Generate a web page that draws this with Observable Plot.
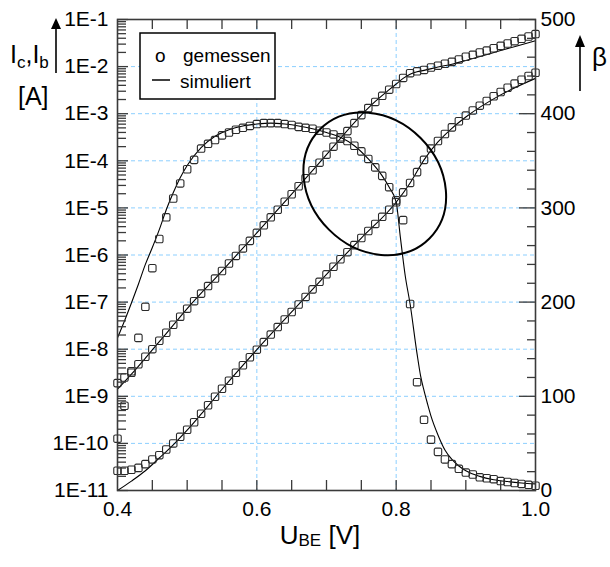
<!DOCTYPE html>
<html>
<head>
<meta charset="utf-8">
<script src="https://cdn.jsdelivr.net/npm/d3@7"></script>
<script src="https://cdn.jsdelivr.net/npm/@observablehq/plot@0.6"></script>
<style>
  html, body { margin: 0; padding: 0; background: #fff; }
  #chart { width: 610px; height: 567px; }
</style>
</head>
<body>
<div id="chart"></div>
<script>
// ---------- data ----------
// base-emitter voltage of the measured samples [V]
const uMeas = [0.40,0.41,0.42,0.43,0.44,0.45,0.46,0.47,0.48,0.49,
               0.50,0.51,0.52,0.53,0.54,0.55,0.56,0.57,0.58,0.59,
               0.60,0.61,0.62,0.63,0.64,0.65,0.66,0.67,0.68,0.69,
               0.70,0.71,0.72,0.73,0.74,0.75,0.76,0.77,0.78,0.79,
               0.80,0.81,0.82,0.83,0.84,0.85,0.86,0.87,0.88,0.89,
               0.90,0.91,0.92,0.93,0.94,0.95,0.96,0.97,0.98,0.99,1.00];
// measured collector current, log10(Ic / A)
const icMeasLog = [-8.72,-8.60,-8.47,-8.32,-8.16,-8.00,-7.82,-7.65,-7.48,-7.31,
                   -7.14,-6.98,-6.82,-6.66,-6.50,-6.34,-6.18,-6.02,-5.86,-5.70,
                   -5.53,-5.37,-5.20,-5.04,-4.87,-4.71,-4.54,-4.37,-4.20,-4.04,
                   -3.87,-3.70,-3.53,-3.37,-3.20,-3.03,-2.88,-2.75,-2.62,-2.49,
                   -2.37,-2.24,-2.14,-2.10,-2.07,-2.02,-1.98,-1.94,-1.90,-1.85,
                   -1.79,-1.75,-1.70,-1.66,-1.61,-1.56,-1.51,-1.46,-1.41,-1.36,-1.31];
// measured base current, log10(Ib / A)
const ibMeasLog = [-10.58,-10.58,-10.56,-10.52,-10.44,-10.34,-10.25,-10.13,-10.00,-9.86,
                   -9.71,-9.55,-9.37,-9.19,-9.01,-8.84,-8.67,-8.50,-8.34,-8.17,
                   -8.01,-7.85,-7.69,-7.53,-7.37,-7.21,-7.05,-6.89,-6.73,-6.57,
                   -6.41,-6.25,-6.09,-5.94,-5.79,-5.64,-5.49,-5.34,-5.19,-5.04,
                   -4.88,-4.67,-4.47,-4.24,-3.98,-3.74,-3.58,-3.43,-3.29,-3.16,
                   -3.04,-2.93,-2.83,-2.73,-2.63,-2.54,-2.45,-2.36,-2.28,-2.20,-2.13];
// measured current gain beta
const betaMeas = [55,90,125,162,195,236,267,290,310,326,
                  341,351,363,368,372,377,380,383,385,387,
                  389,390,390,390,389,388,386,385,384,382,
                  380,378,375,371,366,360,352,343,334,322,
                  308,287,198,115,75,54,41,33,28,23,
                  19,17,14,13,12,10,9,8,7,6,5];

// simulated curves
const uIcSim   = [0.40,0.42,0.44,0.46,0.48,0.50,0.55,0.60,0.65,0.70,0.75,0.77,0.79,0.80,0.81,0.82,0.83,0.84,0.86,0.88,0.90,0.95,1.00];
const icSimLog = [-8.85,-8.53,-8.19,-7.84,-7.49,-7.14,-6.34,-5.53,-4.71,-3.87,-3.03,-2.74,-2.49,-2.37,-2.25,-2.16,-2.11,-2.08,-2.01,-1.95,-1.87,-1.66,-1.45];
const uIbSim   = [0.40,0.42,0.44,0.46,0.48,0.50,0.52,0.55,0.60,0.65,0.70,0.75,0.80,0.82,0.84,0.86,0.88,0.90,0.95,1.00];
const ibSimLog = [-11.0,-10.8,-10.58,-10.31,-10.03,-9.72,-9.38,-8.85,-8.01,-7.21,-6.41,-5.64,-4.88,-4.47,-3.98,-3.60,-3.31,-3.07,-2.60,-2.25];
const uBetaSim = [0.40,0.41,0.42,0.43,0.44,0.45,0.46,0.47,0.48,0.49,0.50,0.52,0.54,0.56,0.58,0.60,0.62,0.64,0.66,0.68,0.70,0.72,0.74,0.76,0.78,0.79,0.80,0.806,0.813,0.82,0.83,0.835,0.84,0.845,0.85,0.86,0.87,0.88,0.89,0.90,0.92,0.94,0.96,0.98,1.00];
const betaSim  = [162,180,199,219,240,258,277,298,316,332,345,364,376,383,387,389,390,389,387,384,380,375,366,352,334,322,306,269,228,198,145,122,106,92,79,59,43,33,26,21,15,11.5,9.5,8,7];

// axes / labels
const xTickLabels   = [0.4, 0.6, 0.8, 1.0];
const xMinorTicks   = [0.45,0.5,0.55,0.6,0.65,0.7,0.75,0.8,0.85,0.9,0.95];
const xGrid         = [0.6, 0.8];
const decadeExps    = [-11,-10,-9,-8,-7,-6,-5,-4,-3,-2,-1];
const gridExps      = [-10,-9,-8,-7,-6,-5,-4,-3,-2];
const betaTickLabels = [0,100,200,300,400,500];
const legendLabels  = ["gemessen", "simuliert"];
const xTitle = ["U", "BE", " [V]"];
// annotation ellipse: centre (U, beta), semi-axes in volts, rotation in degrees
const ellipse = { u: 0.770, beta: 325, a: 0.111, b: 0.093, angle: 45 };

// ---------- helpers ----------
const FONT = "'Liberation Sans', Arial, Helvetica, sans-serif";
const GRID = "#8ccfff";
const AX = "#3a3a3a";
// right axis: beta 0..500 spans the same height as 1E-11..1E-1
const b2y = b => Math.pow(10, -11 + b / 50);
const y2b = y => (Math.log10(y) + 11) * 50;

const icPts   = uMeas.map((u, i) => ({u, v: Math.pow(10, icMeasLog[i])}));
const ibPts   = uMeas.map((u, i) => ({u, v: Math.pow(10, ibMeasLog[i])}));
const betaPts = uMeas.map((u, i) => ({u, v: b2y(betaMeas[i])}));
const icLine   = uIcSim.map((u, i) => ({u, v: Math.pow(10, icSimLog[i])}));
const ibLine   = uIbSim.map((u, i) => ({u, v: Math.pow(10, ibSimLog[i])}));
const betaLine = uBetaSim.map((u, i) => ({u, v: b2y(betaSim[i])}));

const decades = decadeExps.map(e => Math.pow(10, e));
const leftMinor = [];
decadeExps.slice(0, -1).forEach(e => { for (let m = 2; m <= 9; m++) leftMinor.push(m * Math.pow(10, e)); });
const betaMinor = d3.range(0, 501, 20).filter(b => b % 100 !== 0);

const roundSquare = {
  draw(ctx, size) {
    const s = Math.sqrt(size) / 2, r = s * 0.4;
    ctx.moveTo(-s + r, -s);
    ctx.lineTo(s - r, -s); ctx.arcTo(s, -s, s, -s + r, r);
    ctx.lineTo(s, s - r);  ctx.arcTo(s, s, s - r, s, r);
    ctx.lineTo(-s + r, s); ctx.arcTo(-s, s, -s, s - r, r);
    ctx.lineTo(-s, -s + r); ctx.arcTo(-s, -s, -s + r, -s, r);
    ctx.closePath();
  }
};

function ellipseMark(index, scales) {
  const cx = scales.x(ellipse.u), cy = scales.y(b2y(ellipse.beta));
  const ra = scales.x(ellipse.u + ellipse.a) - cx;
  const rb = scales.x(ellipse.u + ellipse.b) - cx;
  return d3.create("svg:ellipse")
    .attr("cx", cx).attr("cy", cy).attr("rx", ra).attr("ry", rb)
    .attr("transform", `rotate(${ellipse.angle} ${cx} ${cy})`)
    .attr("fill", "none").attr("stroke", "#000").attr("stroke-width", 2)
    .node();
}

function decorations(index, scales, values, dim) {
  const L = dim.marginLeft, T = dim.marginTop;
  const R = dim.width - dim.marginRight, B = dim.height - dim.marginBottom;
  const g = d3.create("svg:g").attr("font-family", FONT).attr("fill", "#000").attr("text-anchor", "start");
  // legend
  g.append("rect").attr("x", L + 23).attr("y", T + 14).attr("width", 135).attr("height", 66)
    .attr("fill", "#fff").attr("stroke", "#000").attr("stroke-width", 1.5);
  g.append("text").attr("x", L + 38).attr("y", T + 43).attr("font-size", 19).text("o");
  g.append("text").attr("x", L + 66).attr("y", T + 43).attr("font-size", 19).text(legendLabels[0]);
  g.append("line").attr("x1", L + 35).attr("x2", L + 53).attr("y1", T + 61).attr("y2", T + 61)
    .attr("stroke", "#000").attr("stroke-width", 1.5);
  g.append("text").attr("x", L + 63).attr("y", T + 69).attr("font-size", 19).text(legendLabels[1]);
  // left axis title
  const t1 = g.append("text").attr("x", 10).attr("y", T + 44).attr("font-size", 25);
  t1.append("tspan").text("I");
  t1.append("tspan").attr("font-size", 17).attr("dy", 5).text("c");
  t1.append("tspan").attr("dy", -5).text(",I");
  t1.append("tspan").attr("font-size", 17).attr("dy", 5).text("b");
  g.append("text").attr("x", 18).attr("y", T + 86).attr("font-size", 25).text("[A]");
  g.append("line").attr("x1", 56).attr("x2", 56).attr("y1", T + 54).attr("y2", T + 8)
    .attr("stroke", "#000").attr("stroke-width", 1.6);
  g.append("path").attr("d", `M56,${T - 1}L51,${T + 10}L61,${T + 10}Z`);
  // right axis title
  g.append("text").attr("x", R + 57).attr("y", T + 47).attr("font-size", 26).text("β");
  g.append("line").attr("x1", R + 45).attr("x2", R + 45).attr("y1", T + 72).attr("y2", T + 25)
    .attr("stroke", "#000").attr("stroke-width", 1.6);
  g.append("path").attr("d", `M${R + 45},${T + 16}L${R + 40},${T + 28}L${R + 50},${T + 28}Z`);
  // x axis title
  const t2 = g.append("text").attr("x", (L + R) / 2 - 6).attr("y", B + 54)
    .attr("font-size", 26).attr("text-anchor", "middle");
  t2.append("tspan").text(xTitle[0]);
  t2.append("tspan").attr("font-size", 17).attr("dy", 2).text(xTitle[1]);
  t2.append("tspan").attr("dy", -2).text(xTitle[2]);
  return g.node();
}

const dotStyle = {x: "u", y: "v", symbol: roundSquare, r: 4.2, stroke: "#2a2a2a", strokeWidth: 1.1, fill: "none"};
const lineStyle = {x: "u", y: "v", stroke: "#000", strokeWidth: 1.1, curve: "monotone-x"};
const gridStyle = {stroke: GRID, strokeOpacity: 1, strokeWidth: 1, strokeDasharray: "4,3"};

const chart = Plot.plot({
  width: 610,
  height: 567,
  marginLeft: 117,
  marginRight: 75,
  marginTop: 19,
  marginBottom: 77,
  style: {fontFamily: FONT, background: "#fff", color: "#000", overflow: "visible"},
  x: {domain: [0.4, 1.0], label: null},
  y: {type: "log", domain: [1e-11, 1e-1], label: null},
  marks: [
    Plot.gridY(gridExps.map(e => Math.pow(10, e)), gridStyle),
    Plot.gridX(xGrid, gridStyle),
    // simulated
    Plot.line(icLine, lineStyle),
    Plot.line(ibLine, lineStyle),
    Plot.line(betaLine, lineStyle),
    // measured
    Plot.dot(icPts, dotStyle),
    Plot.dot(ibPts, dotStyle),
    Plot.dot(betaPts, dotStyle),
    ellipseMark,
    // left axis
    Plot.axisY(decades, {anchor: "left", tickSize: 11, dx: 11, fill: "none", stroke: AX, strokeWidth: 1.3, label: null}),
    Plot.axisY(leftMinor, {anchor: "left", tickSize: 9, dx: 9, fill: "none", stroke: AX, strokeWidth: 1.3, label: null}),
    Plot.axisY(decades, {anchor: "left", tickSize: 0, tickPadding: 9, fontSize: 21, fill: "#000",
      tickFormat: d => "1E" + Math.round(Math.log10(d)), label: null}),
    // right axis
    Plot.axisY(betaTickLabels.map(b2y), {anchor: "right", tickSize: 17, dx: -17, fill: "none", stroke: AX, strokeWidth: 1.3, label: null}),
    Plot.axisY(betaMinor.map(b2y), {anchor: "right", tickSize: 9, dx: -9, fill: "none", stroke: AX, strokeWidth: 1.3, label: null}),
    Plot.axisY(betaTickLabels.map(b2y), {anchor: "right", tickSize: 0, tickPadding: 5, fontSize: 21, fill: "#000",
      tickFormat: d => String(Math.round(y2b(d))), label: null}),
    // bottom / top ticks
    Plot.axisX(xMinorTicks, {anchor: "bottom", tickSize: 10, dy: -10, fill: "none", stroke: AX, strokeWidth: 1.3, label: null}),
    Plot.axisX(xMinorTicks, {anchor: "top", tickSize: 9, dy: 9, fill: "none", stroke: AX, strokeWidth: 1.3, label: null}),
    Plot.axisX(xTickLabels, {anchor: "bottom", tickSize: 0, tickPadding: 11, fontSize: 21, fill: "#000",
      tickFormat: d => d.toFixed(1), label: null}),
    Plot.frame({stroke: AX, strokeWidth: 1.6}),
    decorations
  ]
});
document.getElementById("chart").appendChild(chart);
</script>
</body>
</html>
